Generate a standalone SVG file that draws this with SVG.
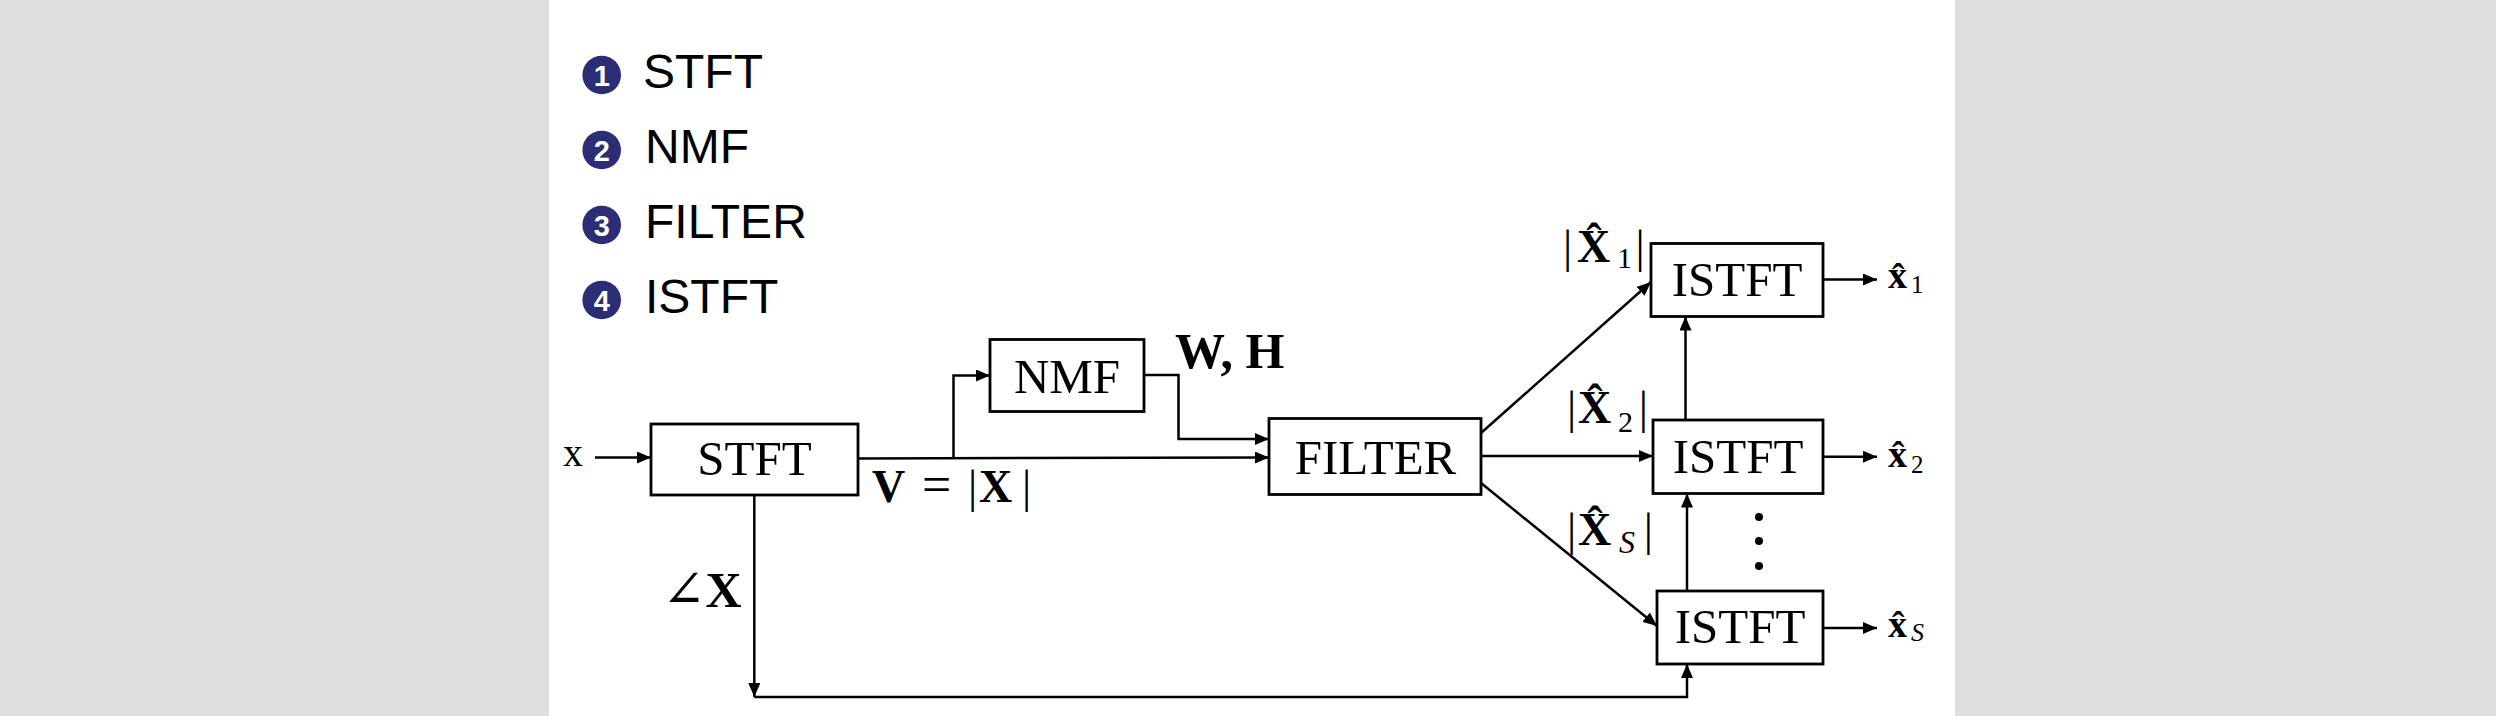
<svg xmlns="http://www.w3.org/2000/svg" width="2496" height="716" viewBox="0 0 2496 716">
<style>
.box{fill:#fff;stroke:#000;stroke-width:2.8}
.ln{fill:none;stroke:#000;stroke-width:2.5}
.lbl{font-family:"Liberation Serif","DejaVu Serif",serif;font-size:49px;fill:#000}
.mid{text-anchor:middle}
.b{font-weight:bold}
.leg{font-family:"Liberation Sans",Arial,sans-serif;font-size:48px;fill:#000}
.num{font-family:"Liberation Sans",Arial,sans-serif;font-size:29px;font-weight:bold;fill:#fff;text-anchor:middle}
.dot{fill:#2b2e74}
</style>
<defs>
<marker id="ah" markerUnits="userSpaceOnUse" markerWidth="14" markerHeight="12" refX="14" refY="6" orient="auto">
<path d="M0,0 L14,6 L0,12 z" fill="#000"/>
</marker>
</defs>
<rect x="0" y="0" width="2496" height="716" fill="#dfdfdf"/>
<rect x="549" y="0" width="1406" height="716" fill="#fff"/>

<g id="legend">
<circle class="dot" cx="601.7" cy="75" r="19.3"/><text class="num" x="601.7" y="85.5">1</text><text class="leg" x="643" y="88.3">STFT</text>
<circle class="dot" cx="601.7" cy="150" r="19.3"/><text class="num" x="601.7" y="160.5">2</text><text class="leg" x="645" y="163.3">NMF</text>
<circle class="dot" cx="601.7" cy="225" r="19.3"/><text class="num" x="601.7" y="235.5">3</text><text class="leg" x="645" y="238.3">FILTER</text>
<circle class="dot" cx="601.7" cy="300" r="19.3"/><text class="num" x="601.7" y="310.5">4</text><text class="leg" x="645" y="313.3">ISTFT</text>
</g>

<g id="connectors">
<path class="ln" d="M595,457.5 H651" marker-end="url(#ah)"/>
<path class="ln" d="M858,458.5 L1269,457.5" marker-end="url(#ah)"/>
<path class="ln" d="M953.5,458.3 V375.5 H990" marker-end="url(#ah)"/>
<path class="ln" d="M1144,375 H1178.5 V439 H1269" marker-end="url(#ah)"/>
<path class="ln" d="M1481,433 L1651,282" marker-end="url(#ah)"/>
<path class="ln" d="M1481,456 H1653" marker-end="url(#ah)"/>
<path class="ln" d="M1481,483 L1657,626" marker-end="url(#ah)"/>
<path class="ln" d="M1685.5,420 V316.5" marker-end="url(#ah)"/>
<path class="ln" d="M1687,591 V493.5" marker-end="url(#ah)"/>
<path class="ln" d="M754.3,495 V697" marker-end="url(#ah)"/>
<path class="ln" d="M754.3,697 H1687 V664" marker-end="url(#ah)"/>
<path class="ln" d="M1823,279.5 H1877" marker-end="url(#ah)"/>
<path class="ln" d="M1823,456.7 H1877" marker-end="url(#ah)"/>
<path class="ln" d="M1823,628 H1877" marker-end="url(#ah)"/>
</g>

<g id="input">
<text class="lbl" x="563" y="466" style="font-size:40px">x</text>
</g>

<g id="stft">
<rect class="box" x="651" y="424" width="207" height="71"/>
<text class="lbl mid" x="754.5" y="475">STFT</text>
</g>

<g id="nmf">
<rect class="box" x="990" y="339.5" width="154" height="72"/>
<text class="lbl mid" x="1067" y="392.5">NMF</text>
</g>

<g id="filter">
<rect class="box" x="1269" y="418.5" width="212" height="76"/>
<text class="lbl mid" x="1375.5" y="474">FILTER</text>
</g>

<g id="istft1">
<rect class="box" x="1651" y="243.5" width="172" height="73"/>
<text class="lbl mid" x="1737" y="296">ISTFT</text>
</g>

<g id="istft2">
<rect class="box" x="1653" y="420" width="170" height="73.5"/>
<text class="lbl mid" x="1738" y="473">ISTFT</text>
</g>

<g id="istft3">
<rect class="box" x="1657" y="591" width="166" height="73"/>
<text class="lbl mid" x="1740" y="643">ISTFT</text>
</g>

<g id="labels">
<text class="lbl" y="501.7" style="font-size:46px"><tspan x="872" class="b">V</tspan><tspan x="922" style="font-size:52px">=</tspan><tspan x="968">|</tspan><tspan x="979" class="b">X</tspan><tspan x="1022">|</tspan></text>
<text class="lbl" x="662" y="606.7" style="font-size:50px"><tspan style="font-size:52px">∠</tspan><tspan class="b">X</tspan></text>
<text class="lbl b" x="1175" y="368.3" style="font-size:50px">W, H</text>

<text class="lbl" y="262" style="font-size:46px"><tspan x="1563">|</tspan><tspan x="1577" class="b">X̂</tspan><tspan x="1617" y="268.3" style="font-size:30px">1</tspan><tspan x="1635.5" y="262">|</tspan></text>

<text class="lbl" y="423.3" style="font-size:46px"><tspan x="1567">|</tspan><tspan x="1578" class="b">X̂</tspan><tspan x="1618" y="431.7" style="font-size:30px">2</tspan><tspan x="1638.8" y="423.3">|</tspan></text>

<text class="lbl" y="545" style="font-size:46px"><tspan x="1567">|</tspan><tspan x="1578" class="b">X̂</tspan><tspan x="1619" y="553.3" style="font-size:32px;font-style:italic">S</tspan><tspan x="1643.8" y="545">|</tspan></text>

<circle cx="1759" cy="517" r="4"/>
<circle cx="1759" cy="541" r="4"/>
<circle cx="1759" cy="566" r="4"/>

<text class="lbl" y="288.3" style="font-size:38px"><tspan x="1888" class="b">x̂</tspan><tspan x="1911" y="293.3" style="font-size:25px">1</tspan></text>
<text class="lbl" y="466.7" style="font-size:38px"><tspan x="1888" class="b">x̂</tspan><tspan x="1911" y="473.3" style="font-size:25px">2</tspan></text>
<text class="lbl" y="636.7" style="font-size:38px"><tspan x="1888" class="b">x̂</tspan><tspan x="1911" y="640.5" style="font-size:26px;font-style:italic">S</tspan></text>
</g>
</svg>
